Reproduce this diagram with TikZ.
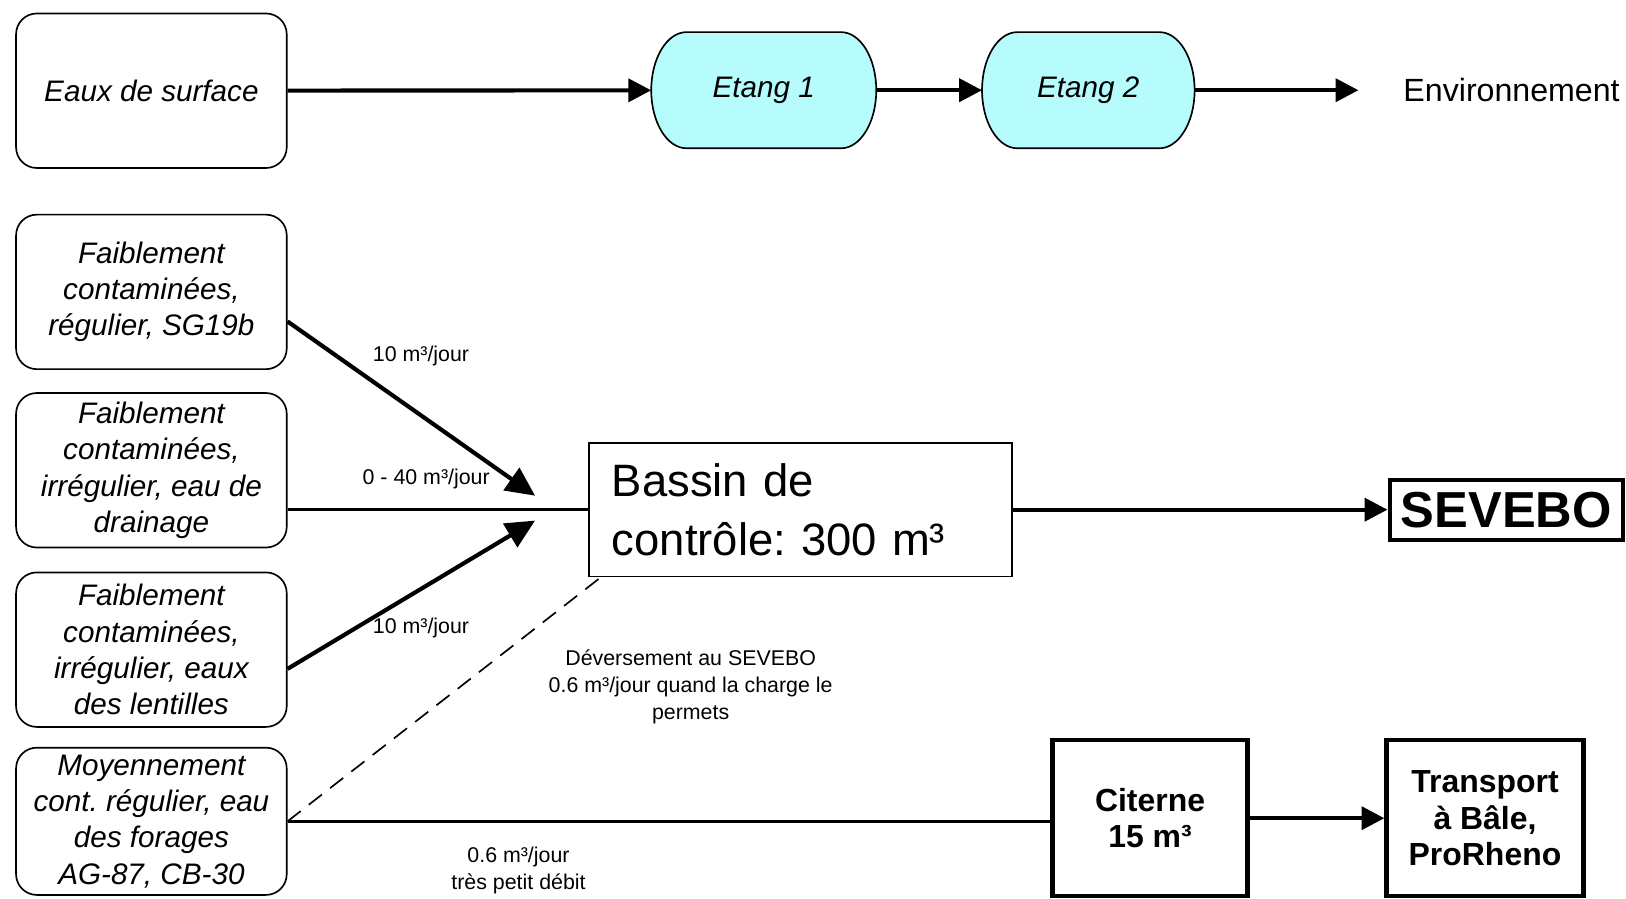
\documentclass[tikz,border=0pt]{standalone}
\usepackage{fontspec}
\setmainfont{Liberation Sans}
\usetikzlibrary{arrows.meta,calc,backgrounds}
\frenchspacing

\definecolor{pond}{RGB}{182,252,252}

% pond outline: flat top and bottom, half-elliptical ends, drawn behind the node text
\newcommand\pondshape[1]{%
  \begin{scope}[on background layer]
    \filldraw[line width=0.8pt, fill=pond]
      ($(#1.north west)+(34,0)$) -- ($(#1.north east)+(-34,0)$)
      arc[start angle=90, end angle=-90, x radius=17pt, y radius=28pt]
      -- ($(#1.south west)+(34,0)$)
      arc[start angle=270, end angle=90, x radius=17pt, y radius=28pt] -- cycle;
  \end{scope}}

\begin{document}
\begin{tikzpicture}[x=0.5pt,y=-0.5pt,
  src/.style={draw, line width=0.8pt, rounded corners=10pt, minimum width=130.5pt,
    minimum height=74.5pt, align=center, inner sep=0pt,
    font=\fontsize{14.3}{17.5}\selectfont\itshape},
  pondbox/.style={rectangle, minimum height=56pt, inner sep=0pt, outer sep=0pt,
    font=\fontsize{14.3}{17}\selectfont\itshape},
  tank/.style={draw, line width=2pt, minimum width=94pt, minimum height=75pt,
    align=center, inner sep=0pt, font=\fontsize{15.4}{17.5}\selectfont\bfseries},
  lbl/.style={align=center, inner sep=0pt, font=\fontsize{10.3}{13}\selectfont},
  flow/.style={line width=2pt, -{Triangle[length=11pt,width=11pt]}},
  bigflow/.style={line width=2pt, -{Triangle[length=14pt,width=13pt]}},
  pipe/.style={line width=1.7pt},
  overflow/.style={line width=0.8pt, dash pattern=on 8pt off 5pt}]

\useasboundingbox (0,0) rectangle (1568,866);

% surface water chain
\node[src] (eaux) at (146,87.5) {Eaux de surface};
\node[pondbox, minimum width=108.5pt] (e1) at (736.5,87) {Etang 1};
\node[pondbox, minimum width=102.5pt] (e2) at (1049.5,87) {Etang 2};
\pondshape{e1}
\pondshape{e2}
\node[anchor=west, inner sep=0pt, font=\fontsize{15.5}{18}\selectfont] (env) at (1353,87) {Environnement};

\draw[flow] (eaux) -- (e1);
\draw[flow] (e1) -- (e2);
\draw[flow, shorten >=21.5pt] (e2) -- (env);

% contaminated water sources
\node[src] (s1) at (146,281.5) {Faiblement\\contaminées,\\régulier, SG19b};
\node[src] (s2) at (146,453.5) {Faiblement\\contaminées,\\irrégulier, eau de\\drainage};
\node[src] (s3) at (146,626.5) {Faiblement\\contaminées,\\irrégulier, eaux\\des lentilles};
\node[src, minimum height=71pt] (s4) at (146,792) {Moyennement\\cont. régulier, eau\\des forages\\AG-87, CB-30};

% control basin and outlets
\node[draw, line width=0.8pt, minimum width=204pt, minimum height=64.5pt,
  text width=182pt, inner xsep=11pt, align=left,
  font=\fontsize{21.9}{28.5}\selectfont] (bassin) at (772,491.5) {Bassin de\\contrôle: 300 m³};
\node[draw, line width=2pt, minimum width=112.5pt, minimum height=29pt, inner sep=0pt,
  font=\fontsize{24.4}{28}\selectfont\bfseries] (sev) at (1452.5,491.5) {SEVEBO};
\node[tank] (cit) at (1109,789) {Citerne\\15 m³};
\node[tank, minimum width=95pt] (trans) at (1432,789) {Transport\\à Bâle,\\ProRheno};

% inflows to the basin
\coordinate (tipA) at (516,478);
\coordinate (tipB) at (516,502);
\draw[bigflow] ($(s1.east)+(0,28.5)$) -- (tipA);
\draw[bigflow] ($(s3.east)+(0,18.5)$) -- (tipB);
\draw[pipe] ($(s2.east)+(0,38)$) -- (bassin.west);
\draw[flow] (bassin) -- (sev);

% borehole water
\coordinate (dropin) at ($(bassin.south west)+(12,0)$);
\draw[overflow] (s4.east) -- (dropin);
\draw[pipe] (s4.east) -- (s4.east -| cit.west);
\draw[flow] (cit) -- (trans);

% flow rates
\node[lbl] (q1) at (406,343) {10 m³/jour};
\node[lbl] (q2) at (411,462) {0 - 40 m³/jour};
\node[lbl] (q3) at (406,606) {10 m³/jour};
\node[lbl] (q4) at (666,662) {Déversement au SEVEBO\\0.6 m³/jour quand la charge le\\permets};
\node[lbl] (q5) at (500,839) {0.6 m³/jour\\très petit débit};

\end{tikzpicture}
\end{document}
